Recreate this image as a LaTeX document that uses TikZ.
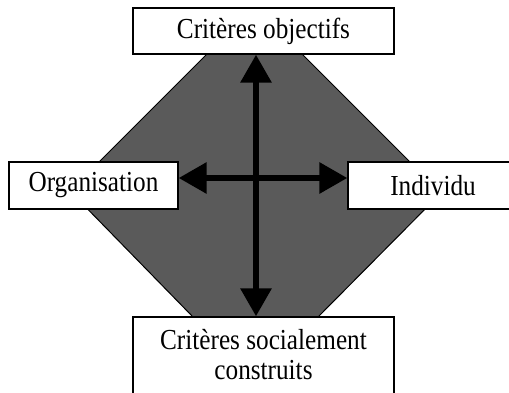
\documentclass[tikz,border=0pt]{standalone}
\usepackage{fontspec}
\setmainfont{Liberation Serif}
\newfontfamily\tallserif[FakeStretch=0.87]{Liberation Serif}
\usetikzlibrary{arrows.meta}
\definecolor{shade}{HTML}{5A5A5A}
\tikzset{
  lbl/.style={draw=black, line width=1.3pt, fill=white, inner sep=0pt, font=\tallserif\fontsize{29}{30}\selectfont, align=center},
  bigarrow/.style={line width=6pt, {Triangle[length=28pt,width=30pt]}-{Triangle[length=28pt,width=30pt]}}
}
\begin{document}
\begin{tikzpicture}[x=1pt,y=-1pt]
\useasboundingbox (0,0) rectangle (509,393);
\fill[white] (0,0) rectangle (509,393);
\draw[fill=shade, line width=1pt] (207,54) -- (302,54) -- (441,193) -- (318,317) -- (193,317) -- (70,191) -- cycle;
\node[lbl, minimum width=261pt, minimum height=46pt] (top) at (263.5,31) {Critères objectifs};
\node[lbl, minimum width=169pt, minimum height=47pt] (left) at (93.5,185.5) {Organisation};
\node[lbl, minimum width=170pt, minimum height=47pt] (right) at (433,185.5) {Individu};
\node[lbl, minimum width=261pt, minimum height=98pt, text depth=0pt] (bot) at (263.5,366) {Critères socialement\\construits\\[-6pt]};
\coordinate (c) at (256,178);
\draw[bigarrow] (top.south -| c) -- (bot.north -| c);
\draw[bigarrow] (left.east |- c) -- (right.west |- c);
\end{tikzpicture}
\end{document}
